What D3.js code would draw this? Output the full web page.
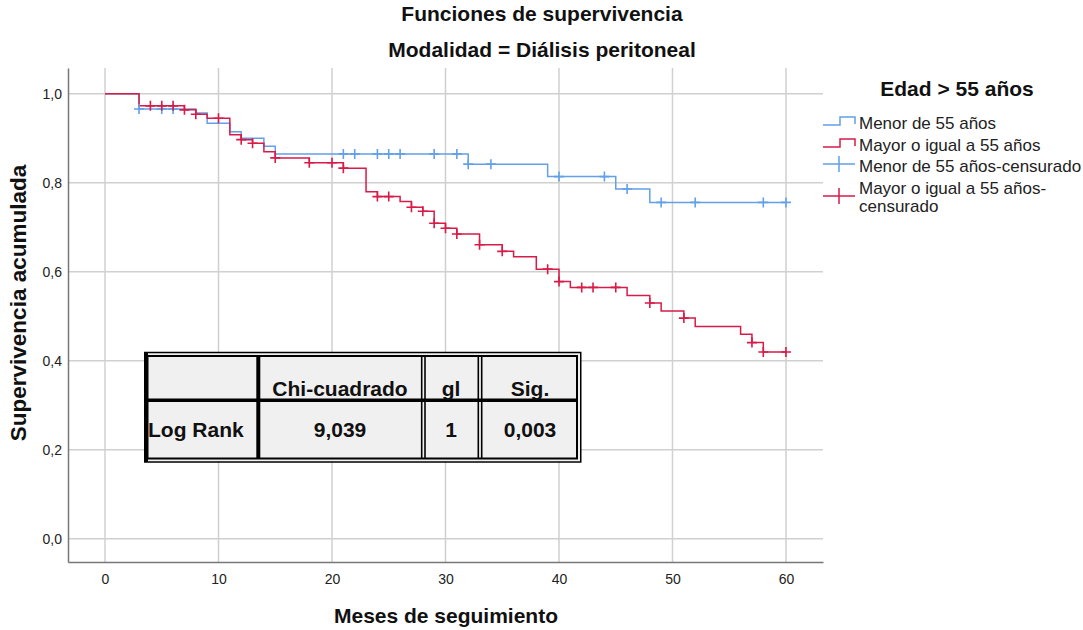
<!DOCTYPE html>
<html><head><meta charset="utf-8">
<script src="https://cdn.jsdelivr.net/npm/d3@7"></script>
<style>
body{margin:0;background:#fff;}
svg{display:block;font-family:"Liberation Sans",Arial,sans-serif;}
</style></head>
<body><svg id="c" width="1083" height="630"></svg>
<script>
// ---- data ----
const xTicks = [0,10,20,30,40,50,60];
const yTicks = [0,0.2,0.4,0.6,0.8,1.0];
const seriesNames = ["Menor de 55 años","Mayor o igual a 55 años"];
const legendLabels = ["Menor de 55 años","Mayor o igual a 55 años","Menor de 55 años-censurado","Mayor o igual a 55 años-censurado"];
// step times and survival after each step
const menorTimes = [0,3,8,9,11,12,14,15,32,39,45,48];
const menorSurv  = [1,0.966,0.957,0.934,0.915,0.900,0.882,0.865,0.842,0.814,0.786,0.756];
const menorCensor = [3,5,6,21,22,24,25,26,29,31,32,34,40,44,46,49,52,58,60];
const mayorTimes = [0,3,7,8,9,11,12,13,14,15,18,21,23,24,26,27,28,29,30,31,33,35,36,38,40,41,46,48,49,51,52,56,57,58];
const mayorSurv  = [1,0.973,0.964,0.954,0.945,0.908,0.897,0.889,0.870,0.856,0.845,0.833,0.780,0.769,0.758,0.745,0.736,0.709,0.698,0.685,0.661,0.646,0.634,0.606,0.578,0.565,0.547,0.530,0.512,0.496,0.477,0.460,0.441,0.420];
const mayorCensor = [4,5,6,7,8,10,12,13,15,18,20,21,24,25,27,28,29,30,31,33,35,39,40,42,43,45,48,51,57,58,60];
const followEnd = 60;
const tableHeader = ["","Chi-cuadrado","gl","Sig."];
const tableRow = ["Log Rank","9,039","1","0,003"];

const colors = ["#62a0e8","#d81b47"];
const svg = d3.select("#c");

const x = d3.scaleLinear().domain([-3.26,63.26]).range([68,823]);
const y = d3.scaleLinear().domain([-0.052,1.058]).range([562,68]);

// grid
const grid = svg.append("g");
grid.selectAll("line.v").data(xTicks).join("line")
  .attr("x1",d=>x(d)).attr("x2",d=>x(d)).attr("y1",68).attr("y2",562)
  .attr("stroke","#d0d0d0").attr("stroke-width",1.5);
grid.selectAll("line.h").data(yTicks).join("line")
  .attr("y1",d=>y(d)).attr("y2",d=>y(d)).attr("x1",68).attr("x2",823)
  .attr("stroke","#d0d0d0").attr("stroke-width",1.5);

// axes
const xAxis = svg.append("g").attr("transform","translate(0,562)")
  .call(d3.axisBottom(x).tickValues(xTicks).tickSize(0).tickPadding(12).tickFormat(d3.format("d")));
xAxis.select(".domain").attr("stroke","#777").attr("stroke-width",1.5);
xAxis.selectAll("text").attr("font-size",14).attr("fill","#222")
  .attr("font-family","'Liberation Sans Narrow','Liberation Sans',Arial");
const yAxis = svg.append("g").attr("transform","translate(68,0)")
  .call(d3.axisLeft(y).tickValues(yTicks).tickSize(0).tickPadding(6).tickFormat(d=>d3.format(".1f")(d).replace(".",",")));
yAxis.select(".domain").attr("stroke","#777").attr("stroke-width",1.5);
yAxis.selectAll("text").attr("font-size",14).attr("fill","#222");

// curves
function stepPts(times,surv){
  const p = times.map((t,i)=>[t,surv[i]]);
  p.push([followEnd,surv[surv.length-1]]);
  return p;
}
function survAt(times,surv,t){
  let v = surv[0];
  for(let i=0;i<times.length;i++){ if(times[i]<=t) v = surv[i]; }
  return v;
}
const line = d3.line().x(d=>x(d[0])).y(d=>y(d[1])).curve(d3.curveStepAfter);
const series = [[menorTimes,menorSurv,menorCensor],[mayorTimes,mayorSurv,mayorCensor]];
series.forEach((s,i)=>{
  svg.append("path").attr("d",line(stepPts(s[0],s[1])))
    .attr("fill","none").attr("stroke",colors[i]).attr("stroke-width",1.5);
});
series.forEach((s,i)=>{
  svg.append("g").selectAll("path").data(s[2]).join("path")
    .attr("d",t=>{const cx=x(t), cy=y(survAt(s[0],s[1],t));
      return `M${cx-5},${cy}H${cx+5}M${cx},${cy-5}V${cy+5}`;})
    .attr("stroke",colors[i]).attr("stroke-width",1.6).attr("fill","none");
});

// titles
svg.append("text").attr("x",542).attr("y",21).attr("text-anchor","middle")
  .attr("font-size",21).attr("font-weight","bold").attr("fill","#111").text("Funciones de supervivencia");
svg.append("text").attr("x",542).attr("y",57).attr("text-anchor","middle")
  .attr("font-size",21).attr("font-weight","bold").attr("fill","#111").text("Modalidad = Diálisis peritoneal");
svg.append("text").attr("x",446).attr("y",623).attr("text-anchor","middle")
  .attr("font-size",21).attr("font-weight","bold").attr("fill","#111").text("Meses de seguimiento");
svg.append("text").attr("transform","translate(26,303) rotate(-90)").attr("text-anchor","middle")
  .attr("font-size",22.5).attr("font-weight","bold").attr("fill","#111").text("Supervivencia acumulada");

// legend
svg.append("text").attr("x",957).attr("y",96).attr("text-anchor","middle")
  .attr("font-size",21).attr("font-weight","bold").attr("fill","#111").text("Edad > 55 años");
const legY = [125,147,164,196];
const lg = svg.append("g");
legendLabels.forEach((lab,i)=>{
  const c = colors[i%2], yy = legY[i];
  if(i<2){
    lg.append("path").attr("d",`M823,${yy}H840V${yy-8}H855V${yy-1}`).attr("fill","none").attr("stroke",c).attr("stroke-width",1.5);
  } else {
    lg.append("path").attr("d",`M823,${yy}H855M839,${yy-8}V${yy+8}`).attr("fill","none").attr("stroke",c).attr("stroke-width",1.5);
  }
});
const legTextY = [129,151,172];
legendLabels.slice(0,3).forEach((lab,i)=>{
  lg.append("text").attr("x",859).attr("y",legTextY[i]).attr("font-size",17).attr("fill","#222").text(lab);
});
const last = legendLabels[3].split("-");
lg.append("text").attr("x",859).attr("y",194).attr("font-size",17).attr("fill","#222").text(last[0]+"-");
lg.append("text").attr("x",859).attr("y",212).attr("font-size",17).attr("fill","#222").text(last[1]);

// table
const tb = svg.append("g");
tb.append("rect").attr("x",145).attr("y",353).attr("width",435).attr("height",108).attr("fill","#f0f0f0");
tb.append("rect").attr("x",144.75).attr("y",352.5).attr("width",436).attr("height",109.5).attr("fill","none").attr("stroke","#000").attr("stroke-width",1.5);
tb.append("rect").attr("x",147.5).attr("y",356).attr("width",429.5).attr("height",102.5).attr("fill","none").attr("stroke","#000").attr("stroke-width",2);
tb.append("rect").attr("x",144).attr("y",352).attr("width",4).attr("height",110).attr("fill","#000");
tb.append("line").attr("x1",147).attr("x2",577).attr("y1",400.25).attr("y2",400.25).attr("stroke","#000").attr("stroke-width",3.5);
tb.append("line").attr("x1",258.3).attr("x2",258.3).attr("y1",356).attr("y2",458).attr("stroke","#000").attr("stroke-width",4);
[421.7,425,478.3,481.7].forEach(xx=>{
  tb.append("line").attr("x1",xx).attr("x2",xx).attr("y1",356).attr("y2",458).attr("stroke","#000").attr("stroke-width",1.6);
});
const colCenters = [null,340,451,530];
tableHeader.forEach((h,i)=>{ if(i>0) tb.append("text").attr("x",colCenters[i]).attr("y",396).attr("text-anchor","middle")
  .attr("font-size",21).attr("font-weight","bold").attr("fill","#111").text(h); });
tableRow.forEach((h,i)=>{
  tb.append("text").attr("x",i===0?148:colCenters[i]).attr("y",437).attr("text-anchor",i===0?"start":"middle")
  .attr("font-size",21).attr("font-weight","bold").attr("fill","#111").text(h); });
</script></body></html>
